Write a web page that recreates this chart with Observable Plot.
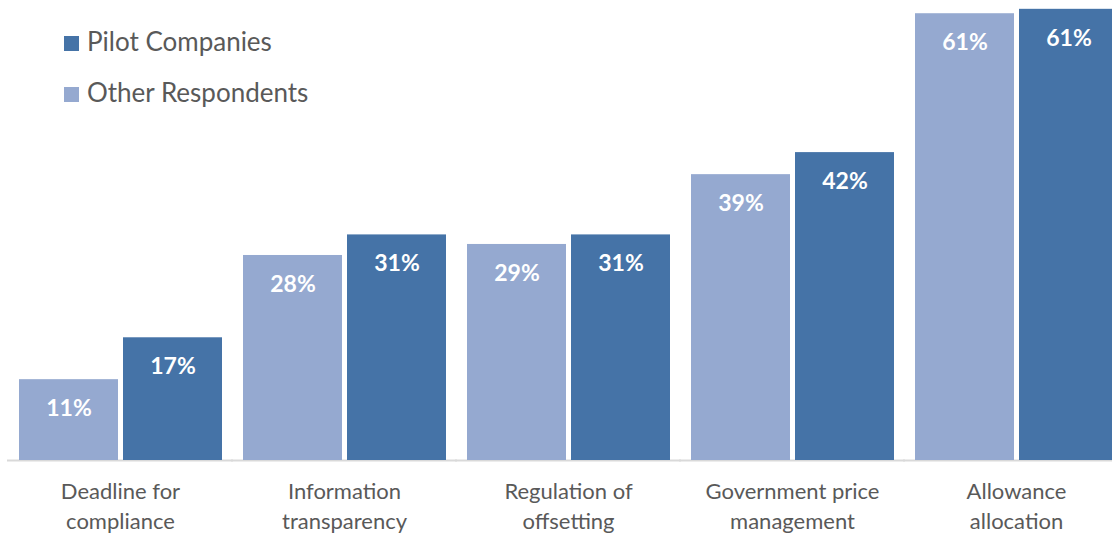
<!DOCTYPE html>
<html>
<head>
<meta charset="utf-8">
<script src="https://cdn.jsdelivr.net/npm/d3@7"></script>
<script src="https://cdn.jsdelivr.net/npm/@observablehq/plot@0.6"></script>
<style>
  body { margin: 0; background: #fff; }
  #wrap { position: relative; width: 1112px; height: 536px; overflow: hidden; }
  #legend { position: absolute; left: 0; top: 0; }
</style>
</head>
<body>
<div id="wrap"></div>
<script>
const categories = ["Deadline for\ncompliance", "Information\ntransparency", "Regulation of\noffsetting", "Government price\nmanagement", "Allowance\nallocation"];
const series = ["Other Respondents", "Pilot Companies"];
const otherValues = [11.0, 27.9, 29.4, 38.9, 60.8];
const pilotValues = [16.7, 30.7, 30.7, 41.9, 61.4];
const legendOrder = ["Pilot Companies", "Other Respondents"];
const colors = ["#95a9d0", "#4573a7"];

const data = [];
categories.forEach((c, i) => {
  data.push({category: c, series: series[0], value: otherValues[i]});
  data.push({category: c, series: series[1], value: pilotValues[i]});
});

const FONT = "Lato, 'Open Sans', sans-serif";

const chart = Plot.plot({
  width: 1112,
  height: 536,
  marginTop: 0,
  marginBottom: 76,
  marginLeft: 0,
  marginRight: 0,
  style: {fontFamily: FONT, background: "#fff"},
  fx: {domain: categories, range: [17, 1118], paddingInner: 0.09, paddingOuter: 0, axis: null, label: null},
  x: {domain: series, paddingInner: 0.05, paddingOuter: 0, axis: null, label: null},
  y: {domain: [0, 62.6], axis: null, label: null},
  color: {domain: series, range: colors},
  marks: [
    Plot.ruleY([0], {stroke: "#d9d9d9", strokeWidth: 2, insetLeft: -11, insetRight: -11}),
    Plot.barY(data, {fx: "category", x: "series", y: "value", fill: "series"}),
    Plot.text(data, {fx: "category", x: "series", y: "value", text: d => Math.round(d.value) + "%", dy: 29,
      fill: "white", fontWeight: "bold", fontSize: 23}),
    Plot.text(categories, {fx: d => d, text: d => d, frameAnchor: "bottom", lineAnchor: "top", dy: 17,
      fontSize: 22, lineHeight: 1.36, fill: "#595959"})
  ]
});

const wrap = document.getElementById("wrap");
wrap.appendChild(chart);

// legend overlay
const leg = d3.select(wrap).append("svg").attr("id", "legend").attr("width", 400).attr("height", 130)
  .style("font-family", FONT);
const colorOf = s => colors[series.indexOf(s)];
legendOrder.forEach((s, i) => {
  const base = 51 + i * 51;
  leg.append("rect").attr("x", 64).attr("y", base - 15).attr("width", 15).attr("height", 15).attr("fill", colorOf(s));
  leg.append("text").attr("x", 87).attr("y", base).attr("font-size", 26).attr("fill", "#595959").text(s);
});
</script>
</body>
</html>
